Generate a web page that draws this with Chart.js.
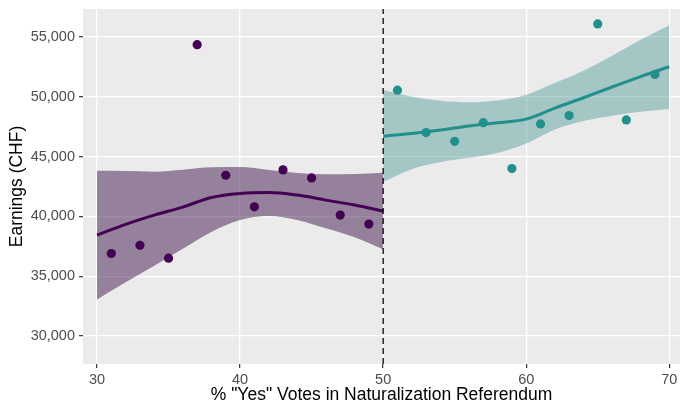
<!DOCTYPE html>
<html>
<head>
<meta charset="utf-8">
<script src="https://cdn.jsdelivr.net/npm/chart.js@4.4.1/dist/chart.umd.min.js"></script>
<style>
    html, body { margin: 0; padding: 0; background: #ffffff; }
    canvas { display: block; }
</style>
</head>
<body>
<canvas id="rddChart" width="680" height="406"></canvas>
<script>
// Municipalities below the 50% cut-off
const belowX = [31, 33, 35, 37, 39, 41, 43, 45, 47, 49];
const belowY = [36900, 37580, 36510, 54360, 43440, 40800, 43890, 43220, 40110, 39360];

// Municipalities above the 50% cut-off
const aboveX = [51, 53, 55, 57, 59, 61, 63, 65, 67, 69];
const aboveY = [50550, 47010, 46280, 47840, 44000, 47730, 48430, 56090, 48070, 51870];

// Smoothed fit (loess) with confidence band
const belowFitX = [30, 32, 34, 36, 38, 40, 42, 44, 46, 48, 50];
const belowFit = [38440, 39340, 40110, 40780, 41580, 41920, 42000, 41780, 41360, 40950, 40440];
const belowUpper = [43810, 43790, 43740, 43900, 44100, 44120, 43880, 43630, 43520, 43540, 43650];
const belowLower = [33060, 34500, 35880, 37300, 38700, 39690, 40030, 39700, 39000, 38260, 37250];

const aboveFitX = [50, 52, 54, 56, 58, 60, 62, 64, 66, 68, 70];
const aboveFit = [46710, 46940, 47220, 47560, 47830, 48130, 49050, 49920, 50820, 51690, 52510];
const aboveUpper = [50560, 50010, 49680, 49550, 49700, 50180, 51150, 52180, 53440, 54770, 55990];
const aboveLower = [42890, 43950, 44540, 44900, 45310, 46100, 47270, 47970, 48410, 48740, 48970];

const cutoff = 50;

// Axes
const xTicks = [30, 40, 50, 60, 70];
const yTicks = [30000, 35000, 40000, 45000, 50000, 55000];
const xMin = 29.02, xMax = 70.75;
const yMin = 27659, yMax = 57341;

const purple = '#440154';
const teal = '#21908C';

function toPoints(xs, ys)
{
    return xs.map((x, i) => ({ x: x, y: ys[i] }));
}

// Grey panel behind the grid, like ggplot's theme_gray
const panelPlugin = {
    id: 'panelPlugin',
    beforeDraw(chart)
    {
        const { ctx, chartArea: { left, top, width, height } } = chart;
        ctx.save();
        ctx.fillStyle = '#EBEBEB';
        ctx.fillRect(left, top, width, height);
        ctx.restore();
    }
};

const lineBase = {
    type: 'line',
    pointRadius: 0,
    cubicInterpolationMode: 'monotone',
    showLine: true
};

var datasets = [
    // cut-off line (drawn on top)
    {
        type: 'line',
        data: [{ x: cutoff, y: yMin }, { x: cutoff, y: yMax }],
        borderColor: '#000000',
        borderWidth: 1.3,
        borderDash: [6, 4],
        pointRadius: 0,
        fill: false
    },
    {
        type: 'scatter',
        data: toPoints(belowX, belowY),
        backgroundColor: purple,
        borderWidth: 0,
        pointRadius: 4.6
    },
    {
        type: 'scatter',
        data: toPoints(aboveX, aboveY),
        backgroundColor: teal,
        borderWidth: 0,
        pointRadius: 4.6
    },
    Object.assign({}, lineBase, {
        data: toPoints(belowFitX, belowFit),
        borderColor: purple,
        borderWidth: 3,
        fill: false
    }),
    Object.assign({}, lineBase, {
        data: toPoints(aboveFitX, aboveFit),
        borderColor: teal,
        borderWidth: 3,
        fill: false
    }),
    // confidence bands: upper edge, then lower edge filled to it
    Object.assign({}, lineBase, {
        data: toPoints(belowFitX, belowUpper),
        borderWidth: 0,
        borderColor: 'rgba(0,0,0,0)',
        fill: false
    }),
    Object.assign({}, lineBase, {
        data: toPoints(belowFitX, belowLower),
        borderWidth: 0,
        borderColor: 'rgba(0,0,0,0)',
        backgroundColor: 'rgba(45, 0, 58, 0.45)',
        fill: '-1'
    }),
    Object.assign({}, lineBase, {
        data: toPoints(aboveFitX, aboveUpper),
        borderWidth: 0,
        borderColor: 'rgba(0,0,0,0)',
        fill: false
    }),
    Object.assign({}, lineBase, {
        data: toPoints(aboveFitX, aboveLower),
        borderWidth: 0,
        borderColor: 'rgba(0,0,0,0)',
        backgroundColor: 'rgba(57, 142, 137, 0.4)',
        fill: '-1'
    })
];

const fontFamily = "'Liberation Sans', Arial, sans-serif";

var options = {
    responsive: false,
    animation: false,
    events: [],
    layout: {
        // no automatic room for point radius: the panel runs to the right edge
        autoPadding: false,
        padding: { top: 9, right: 0, bottom: 0, left: 0 }
    },
    plugins: {
        legend: { display: false },
        tooltip: { enabled: false }
    },
    scales: {
        x: {
            type: 'linear',
            min: xMin,
            max: xMax,
            afterBuildTicks: function (axis)
            {
                axis.ticks = xTicks.map(v => ({ value: v }));
            },
            afterFit: function (axis)
            {
                // fixed band under the panel, no extra label padding
                axis.height = 42;
                axis.paddingLeft = 0;
                axis.paddingRight = 0;
            },
            border: { display: false },
            grid: {
                color: '#ffffff',
                lineWidth: 1.3,
                drawTicks: true,
                tickLength: 4,
                tickColor: '#333333',
                tickWidth: 1.2
            },
            ticks: {
                color: '#4D4D4D',
                font: { family: fontFamily, size: 14.5 },
                padding: 3,
                maxRotation: 0,
                callback: function (value)
                {
                    return String(value);
                }
            },
            title: {
                display: true,
                text: '% "Yes" Votes in Naturalization Referendum',
                color: '#000000',
                font: { family: fontFamily, size: 17.5 },
                padding: { top: 0, bottom: 0 }
            }
        },
        y: {
            type: 'linear',
            min: yMin,
            max: yMax,
            afterBuildTicks: function (axis)
            {
                axis.ticks = yTicks.map(v => ({ value: v }));
            },
            afterFit: function (axis)
            {
                axis.width = 83;
                axis.paddingTop = 0;
                axis.paddingBottom = 0;
            },
            border: { display: false },
            grid: {
                color: '#ffffff',
                lineWidth: 1.3,
                drawTicks: true,
                tickLength: 4,
                tickColor: '#333333',
                tickWidth: 1.2
            },
            ticks: {
                color: '#4D4D4D',
                font: { family: fontFamily, size: 14.5 },
                padding: 4,
                callback: function (value)
                {
                    return value.toLocaleString('en-US');
                }
            },
            title: {
                display: true,
                text: 'Earnings (CHF)',
                color: '#000000',
                font: { family: fontFamily, size: 17.5 },
                padding: { top: 7, bottom: 0 }
            }
        }
    }
};

new Chart(document.getElementById('rddChart').getContext('2d'), {
    type: 'scatter',
    data: { datasets: datasets },
    options: options,
    plugins: [panelPlugin]
});
</script>
</body>
</html>
